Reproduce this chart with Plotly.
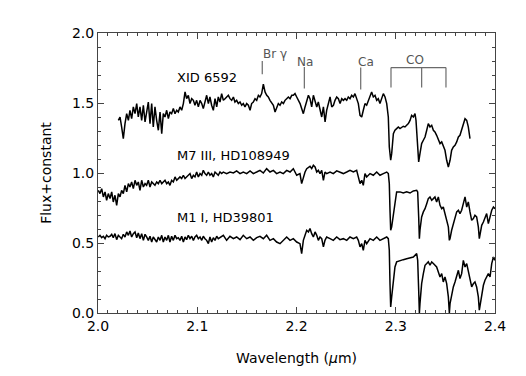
import plotly.graph_objects as go

# ---- XID 6592 spectrum ----
xid_wl = [2.0205, 2.0222, 2.0238, 2.0255, 2.0272, 2.0289, 2.0306, 2.0322, 2.0339, 2.0356,
          2.0373, 2.0390, 2.0406, 2.0423, 2.0440, 2.0457, 2.0474, 2.0490, 2.0507, 2.0524,
          2.0541, 2.0557, 2.0574, 2.0591, 2.0608, 2.0625, 2.0642, 2.0658, 2.0675, 2.0692,
          2.0709, 2.0725, 2.0742, 2.0759, 2.0776, 2.0793, 2.0809, 2.0826, 2.0843, 2.0860,
          2.0877, 2.0893, 2.0910, 2.0927, 2.0944, 2.0961, 2.0977, 2.0994, 2.1011, 2.1028,
          2.1045, 2.1061, 2.1078, 2.1095, 2.1112, 2.1128, 2.1145, 2.1162, 2.1179, 2.1196,
          2.1212, 2.1229, 2.1246, 2.1263, 2.1280, 2.1296, 2.1313,
          2.1330, 2.1347, 2.1364, 2.1380, 2.1397, 2.1414, 2.1431, 2.1448, 2.1464, 2.1481,
          2.1498, 2.1515, 2.1532, 2.1548, 2.1565, 2.1582, 2.1599, 2.1616, 2.1632, 2.1649,
          2.1666, 2.1683, 2.1700, 2.1716, 2.1733, 2.1750, 2.1767, 2.1784, 2.1800, 2.1817,
          2.1834, 2.1851, 2.1868, 2.1884, 2.1901, 2.1918, 2.1935, 2.1952, 2.1968, 2.1985,
          2.2002, 2.2019, 2.2036, 2.2052, 2.2069, 2.2086, 2.2103, 2.2120, 2.2136, 2.2153,
          2.2170, 2.2187, 2.2204, 2.2220, 2.2237, 2.2254, 2.2271, 2.2288, 2.2304, 2.2321,
          2.2338, 2.2355, 2.2372, 2.2388, 2.2405, 2.2422, 2.2439, 2.2456, 2.2472,
          2.2489, 2.2506, 2.2522, 2.2539, 2.2556, 2.2573, 2.2589, 2.2606, 2.2623, 2.2640,
          2.2657, 2.2673, 2.2690, 2.2707, 2.2724, 2.2741, 2.2757, 2.2774, 2.2791, 2.2808,
          2.2824, 2.2841, 2.2858, 2.2875, 2.2892, 2.2909, 2.2925, 2.2935, 2.2949, 2.2959,
          2.2976, 2.2992, 2.3009, 2.3026, 2.3043, 2.3060, 2.3076, 2.3093, 2.3110, 2.3127,
          2.3144, 2.3160, 2.3177, 2.3194, 2.3204, 2.3217, 2.3231, 2.3244, 2.3261, 2.3278,
          2.3295, 2.3312, 2.3328, 2.3345, 2.3362, 2.3379, 2.3395, 2.3412, 2.3429, 2.3446,
          2.3463, 2.3479, 2.3496, 2.3513, 2.3530, 2.3547, 2.3563, 2.3580, 2.3597, 2.3614,
          2.3631, 2.3647, 2.3664, 2.3681, 2.3698, 2.3715, 2.3731, 2.3748]
xid_flux = [1.376, 1.400, 1.329, 1.245, 1.353, 1.424, 1.376, 1.448, 1.388, 1.472,
            1.424, 1.496, 1.400, 1.472, 1.376, 1.484, 1.365, 1.424, 1.507, 1.353,
            1.496, 1.329, 1.472, 1.376, 1.305, 1.436, 1.281, 1.424, 1.400, 1.448,
            1.388, 1.436, 1.424, 1.460, 1.424, 1.448, 1.436, 1.472, 1.448, 1.496,
            1.579, 1.531, 1.555, 1.496, 1.531, 1.519, 1.484, 1.519, 1.472, 1.519,
            1.496, 1.460, 1.519, 1.555, 1.496, 1.543, 1.484, 1.448, 1.531, 1.472,
            1.543, 1.507, 1.567, 1.519, 1.531, 1.543, 1.555,
            1.531, 1.519, 1.543, 1.507, 1.519, 1.496, 1.507, 1.484, 1.496, 1.472,
            1.496, 1.484, 1.448, 1.496, 1.507, 1.531, 1.519, 1.555, 1.543, 1.567,
            1.634, 1.579, 1.555, 1.543, 1.519, 1.496, 1.484, 1.436, 1.472, 1.496,
            1.484, 1.507, 1.496, 1.519, 1.531, 1.543, 1.531, 1.555, 1.555, 1.567,
            1.543, 1.519, 1.496, 1.460, 1.424, 1.472, 1.519, 1.555, 1.531, 1.472,
            1.555, 1.519, 1.472, 1.507, 1.448, 1.400, 1.472, 1.365, 1.448, 1.496,
            1.543, 1.472, 1.484, 1.519, 1.543, 1.531, 1.496, 1.531, 1.519,
            1.531, 1.519, 1.543, 1.531, 1.555, 1.543, 1.567, 1.531, 1.496, 1.412,
            1.400, 1.448, 1.496, 1.484, 1.519, 1.555, 1.579, 1.543, 1.555, 1.519,
            1.531, 1.496, 1.531, 1.567, 1.543, 1.496, 1.400, 1.186, 1.091, 1.138,
            1.281, 1.305, 1.317, 1.329, 1.317, 1.329, 1.334, 1.329, 1.341, 1.353,
            1.376, 1.412, 1.400, 1.424, 1.376, 1.234, 1.079, 1.138, 1.210, 1.234,
            1.257, 1.305, 1.353, 1.329, 1.341, 1.305, 1.293, 1.269, 1.234, 1.210,
            1.222, 1.186, 1.162, 1.091, 1.043, 1.091, 1.162, 1.186, 1.198, 1.222,
            1.257, 1.269, 1.305, 1.353, 1.388, 1.376, 1.329, 1.245]

# ---- M7 III, HD108949 spectrum ----
m7_wl = [2.0003, 2.0020, 2.0037, 2.0054, 2.0071, 2.0087, 2.0104, 2.0121, 2.0138, 2.0154,
         2.0171, 2.0188, 2.0205, 2.0222, 2.0238, 2.0255, 2.0272, 2.0289, 2.0306, 2.0322,
         2.0339, 2.0356, 2.0373, 2.0390, 2.0406, 2.0423, 2.0440, 2.0457, 2.0474, 2.0490,
         2.0507, 2.0524, 2.0541, 2.0557, 2.0574, 2.0591, 2.0608, 2.0625, 2.0642, 2.0658,
         2.0675, 2.0692, 2.0709, 2.0725, 2.0742, 2.0759, 2.0776, 2.0793, 2.0809, 2.0826,
         2.0843, 2.0860, 2.0877, 2.0893, 2.0910, 2.0927, 2.0944, 2.0961, 2.0977, 2.0994,
         2.1011, 2.1028, 2.1045, 2.1061, 2.1078, 2.1095, 2.1112, 2.1128, 2.1145, 2.1162,
         2.1179, 2.1196, 2.1212, 2.1229, 2.1246, 2.1263,
         2.1296, 2.1330, 2.1364, 2.1397, 2.1431, 2.1464, 2.1498, 2.1532, 2.1565, 2.1599,
         2.1632, 2.1666, 2.1699, 2.1733, 2.1767, 2.1800, 2.1834, 2.1867, 2.1901, 2.1935,
         2.1968, 2.2002, 2.2035, 2.2052, 2.2069, 2.2086, 2.2103, 2.2120, 2.2136, 2.2153,
         2.2170, 2.2187, 2.2204, 2.2220, 2.2237, 2.2254, 2.2271, 2.2287, 2.2304, 2.2338,
         2.2371, 2.2405, 2.2438, 2.2472, 2.2506, 2.2539, 2.2573, 2.2606, 2.2623, 2.2640,
         2.2657, 2.2673, 2.2690, 2.2707, 2.2741, 2.2774, 2.2808, 2.2841, 2.2875, 2.2909,
         2.2925, 2.2935, 2.2942, 2.2949, 2.2959, 2.2976, 2.2992, 2.3009, 2.3043, 2.3076,
         2.3110, 2.3144, 2.3177, 2.3211, 2.3221, 2.3231, 2.3238, 2.3244, 2.3261, 2.3278,
         2.3295, 2.3312, 2.3328, 2.3345, 2.3362, 2.3379, 2.3395, 2.3412, 2.3429, 2.3446,
         2.3463, 2.3479, 2.3496, 2.3513, 2.3530, 2.3540, 2.3547, 2.3563, 2.3580, 2.3597,
         2.3614, 2.3631, 2.3647, 2.3664, 2.3681, 2.3698, 2.3715, 2.3731, 2.3748, 2.3765,
         2.3782, 2.3798, 2.3815, 2.3832, 2.3842, 2.3856, 2.3866, 2.3883, 2.3899, 2.3916,
         2.3933, 2.3950, 2.3967, 2.3984, 2.4000]
m7_flux = [0.876, 0.853, 0.888, 0.829, 0.865, 0.805, 0.853, 0.817, 0.865, 0.793,
           0.841, 0.769, 0.853, 0.829, 0.876, 0.853, 0.912, 0.865, 0.924, 0.900,
           0.936, 0.888, 0.948, 0.912, 0.936, 0.876, 0.948, 0.900, 0.924, 0.912,
           0.948, 0.900, 0.936, 0.924, 0.912, 0.936, 0.924, 0.948, 0.924, 0.936,
           0.948, 0.924, 0.936, 0.912, 0.948, 0.936, 0.972, 0.948, 0.960, 0.972,
           0.960, 0.984, 0.960, 0.972, 0.984, 0.996, 0.960, 0.984, 0.972, 1.007,
           0.972, 0.996, 0.984, 1.019, 0.996, 0.984, 1.007, 0.984, 0.996, 0.972,
           1.007, 0.996, 0.984, 1.007, 0.996, 1.007,
           0.996, 1.007, 1.000, 1.015, 0.996, 1.007, 0.996, 1.015, 0.996, 1.007,
           1.019, 1.000, 1.031, 1.007, 1.019, 0.996, 1.007, 0.996, 1.019, 1.007,
           1.031, 0.984, 0.996, 0.924, 0.972, 1.007, 1.031, 1.043, 1.048, 1.031,
           1.055, 1.043, 1.007, 1.019, 0.996, 1.019, 0.948, 1.007, 0.996, 1.007,
           0.996, 1.015, 1.007, 0.996, 1.007, 1.019, 1.007, 1.019, 0.972, 0.924,
           0.948, 0.912, 0.996, 0.972, 0.996, 0.984, 1.007, 0.984, 0.996, 1.007,
           0.996, 0.924, 0.734, 0.591, 0.615, 0.686, 0.781, 0.865, 0.865, 0.857,
           0.865, 0.857, 0.872, 0.876, 0.865, 0.686, 0.531, 0.591, 0.686, 0.722,
           0.745, 0.781, 0.817, 0.829, 0.805, 0.817, 0.829, 0.793, 0.829, 0.769,
           0.745, 0.757, 0.710, 0.662, 0.615, 0.519, 0.531, 0.591, 0.638, 0.686,
           0.722, 0.734, 0.710, 0.734, 0.781, 0.829, 0.757, 0.793, 0.722, 0.662,
           0.674, 0.698, 0.686, 0.615, 0.531, 0.591, 0.626, 0.650, 0.686, 0.710,
           0.638, 0.698, 0.734, 0.757, 0.745]

# ---- M1 I, HD39801 spectrum ----
m1_wl = m7_wl
m1_flux = [0.543, 0.555, 0.538, 0.548, 0.531, 0.555, 0.543, 0.548, 0.562, 0.538,
           0.567, 0.524, 0.555, 0.543, 0.531, 0.562, 0.543, 0.579, 0.555, 0.586,
           0.543, 0.567, 0.579, 0.538, 0.572, 0.531, 0.567, 0.519, 0.562, 0.543,
           0.519, 0.548, 0.507, 0.543, 0.524, 0.507, 0.543, 0.519, 0.555, 0.507,
           0.543, 0.519, 0.555, 0.507, 0.548, 0.519, 0.555, 0.531, 0.538, 0.519,
           0.548, 0.507, 0.543, 0.524, 0.555, 0.531, 0.548, 0.519, 0.543, 0.555,
           0.531, 0.543, 0.519, 0.548, 0.531, 0.519, 0.495, 0.543, 0.507, 0.538,
           0.519, 0.548, 0.531, 0.538, 0.543, 0.555,
           0.519, 0.548, 0.531, 0.543, 0.524, 0.555, 0.531, 0.543, 0.519, 0.538,
           0.548, 0.531, 0.555, 0.519, 0.531, 0.507, 0.495, 0.519, 0.543, 0.519,
           0.531, 0.507, 0.495, 0.424, 0.519, 0.555, 0.591, 0.579, 0.603, 0.567,
           0.543, 0.579, 0.555, 0.519, 0.543, 0.531, 0.472, 0.519, 0.543, 0.531,
           0.519, 0.543, 0.524, 0.531, 0.519, 0.543, 0.531, 0.543, 0.519, 0.472,
           0.495, 0.448, 0.519, 0.495, 0.531, 0.519, 0.543, 0.519, 0.531, 0.543,
           0.531, 0.448, 0.210, 0.043, 0.115, 0.234, 0.329, 0.365, 0.376, 0.381,
           0.388, 0.396, 0.400, 0.424, 0.376, 0.162, 0.000, 0.067, 0.210, 0.281,
           0.341, 0.353, 0.365, 0.341, 0.365, 0.353, 0.341, 0.329, 0.293, 0.257,
           0.281, 0.222, 0.257, 0.210, 0.115, 0.000, 0.067, 0.138, 0.186, 0.222,
           0.257, 0.305, 0.246, 0.281, 0.376, 0.329, 0.353, 0.305, 0.257, 0.186,
           0.210, 0.222, 0.186, 0.115, 0.020, 0.091, 0.138, 0.198, 0.234, 0.257,
           0.281, 0.257, 0.353, 0.400, 0.376]

# ---- spectrum labels ----
label_text = ["XID 6592", "M7 III, HD108949", "M1 I, HD39801"]
label_wl = [2.1103, 2.1370, 2.1280]
label_flux = [1.679, 1.126, 0.684]

# ---- single-line features ----
feat_names = ["Br \u03b3", "Na", "Ca"]
feat_wl = [2.1655, 2.2079, 2.2647]
feat_bottom = [1.705, 1.604, 1.596]
feat_top = [1.800, 1.757, 1.753]
feat_label_wl = [2.1780, 2.2085, 2.2700]
feat_label_flux = [1.85, 1.79, 1.79]

# ---- CO bandheads bracket ----
co_wl = [2.2952, 2.3261, 2.3506]
co_top = 1.753
co_bottom = 1.610
co_label_wl = 2.3194
co_label_flux = 1.805

fig = go.Figure()
for wl, fl in [(xid_wl, xid_flux), (m7_wl, m7_flux), (m1_wl, m1_flux)]:
    fig.add_trace(go.Scatter(x=wl, y=fl, mode="lines",
                             line=dict(color="black", width=1.5),
                             showlegend=False, hoverinfo="skip"))

gray = "#6a6a6a"
for w, b, t in zip(feat_wl, feat_bottom, feat_top):
    fig.add_trace(go.Scatter(x=[w, w], y=[b, t], mode="lines",
                             line=dict(color=gray, width=1.2),
                             showlegend=False, hoverinfo="skip"))

co_x, co_y = [], []
for w in co_wl:
    co_x += [w, w, None]
    co_y += [co_bottom, co_top, None]
co_x += [co_wl[0], co_wl[-1]]
co_y += [co_top, co_top]
fig.add_trace(go.Scatter(x=co_x, y=co_y, mode="lines",
                         line=dict(color=gray, width=1.2),
                         showlegend=False, hoverinfo="skip"))

annots = []
for t, x, y in zip(label_text, label_wl, label_flux):
    annots.append(dict(x=x, y=y, xref="x", yref="y", text=t, showarrow=False,
                       font=dict(size=13, color="black")))
for t, x, y in zip(feat_names, feat_label_wl, feat_label_flux):
    annots.append(dict(x=x, y=y, xref="x", yref="y", text=t, showarrow=False,
                       font=dict(size=12, color="#555555")))
annots.append(dict(x=co_label_wl, y=co_label_flux, xref="x", yref="y", text="CO",
                   showarrow=False, font=dict(size=12, color="#555555")))

axis_common = dict(showgrid=False, zeroline=False, showline=True, linecolor="#444444",
                   linewidth=1, mirror="allticks", ticks="inside", ticklen=6,
                   tickcolor="#444444", tickfont=dict(size=14, color="black"))

# page body has an 8px default margin, so the figure is sized to fit the window
fig.update_layout(
    width=518, height=368,
    margin=dict(l=90, r=31, t=25, b=63),
    paper_bgcolor="white", plot_bgcolor="white",
    font=dict(family="DejaVu Sans", color="black"),
    annotations=annots,
    xaxis=dict(range=[2.0, 2.4], dtick=0.1, tick0=2.0, tickformat=".1f",
               minor=dict(dtick=0.01, ticks="inside", ticklen=3, tickcolor="#444444"),
               title=dict(text="Wavelength (<i>\u03bc</i>m)", font=dict(size=14), standoff=20),
               **axis_common),
    yaxis=dict(range=[0.0, 2.0], dtick=0.5, tick0=0, tickformat=".1f",
               minor=dict(dtick=0.1, ticks="inside", ticklen=3, tickcolor="#444444"),
               title=dict(text="Flux+constant", font=dict(size=14), standoff=17),
               **axis_common),
)

fig.write_html("out.html")
